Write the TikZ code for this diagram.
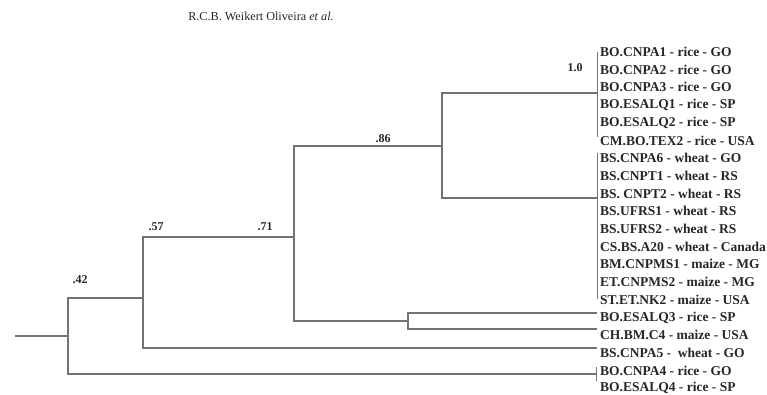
\documentclass[tikz,border=0pt]{standalone}
\usepackage{fontspec}
\setmainfont{Liberation Serif}
\begin{document}
\begin{tikzpicture}[x=1pt,y=-1pt,
  branch/.style={draw=black!55, line width=1.3pt},
  bracket/.style={draw=black!55, line width=1pt},
  leaf/.style={anchor=west, inner sep=0pt, font=\fontsize{13.5}{15}\selectfont\bfseries, text=black!85},
  support/.style={inner sep=0pt, font=\fontsize{12}{14}\selectfont\bfseries, text=black!85}]
\useasboundingbox (0,0) rectangle (767,394);
\node[inner sep=0pt, font=\fontsize{12.2}{14}\selectfont, text=black!85] (title) at (261,16) {R.C.B. Weikert Oliveira \textit{et al.}};
\foreach \i/\t in {0/{BO.CNPA1 - rice - GO},1/{BO.CNPA2 - rice - GO},2/{BO.CNPA3 - rice - GO},
  3/{BO.ESALQ1 - rice - SP},4/{BO.ESALQ2 - rice - SP},5/{CM.BO.TEX2 - rice - USA},
  6/{BS.CNPA6 - wheat - GO},7/{BS.CNPT1 - wheat - RS},8/{BS. CNPT2 - wheat - RS},
  9/{BS.UFRS1 - wheat - RS},10/{BS.UFRS2 - wheat - RS},11/{CS.BS.A20 - wheat - Canada},
  12/{BM.CNPMS1 - maize - MG},13/{ET.CNPMS2 - maize - MG},14/{ST.ET.NK2 - maize - USA},
  15/{BO.ESALQ3 - rice - SP},16/{CH.BM.C4 - maize - USA},17/{BS.CNPA5 -\ \ wheat - GO},
  18/{BO.CNPA4 - rice - GO},19/{BO.ESALQ4 - rice - SP}}
  \node[leaf] (l\i) at (600,{52+17.7*\i}) {\t};
% internal nodes
\coordinate (r) at (15,336);
\coordinate (n42) at (68,336);
\coordinate (n57) at (143,298);
\coordinate (n71) at (294,237);
\coordinate (n86) at (442,146);
\coordinate (nC) at (408,321);
\coordinate (bA) at (597,93);
\coordinate (bB) at (597,198);
\coordinate (bD) at (596,374);
\coordinate (e15) at (597,313);
\coordinate (e16) at (597,329);
\coordinate (e17) at (597,348);
% branches
\draw[branch] (r) -- (n42);
\draw[branch] (n57) -| (n42) |- (bD);
\draw[branch] (n71) -| (n57) |- (e17);
\draw[branch] (n86) -| (n71) |- (nC);
\draw[branch] (bA) -| (n86) |- (bB);
\draw[branch] (e15) -| (nC) |- (e16);
% leaf brackets
\draw[bracket] (597,52) -- (597,137);
\draw[bracket] (597,153) -- (597,299);
\draw[bracket] (596,367) -- (596,381);
% support values
\node[support] (s42) at (80,280) {.42};
\node[support] (s57) at (156,227) {.57};
\node[support] (s71) at (265,227) {.71};
\node[support] (s86) at (383,139) {.86};
\node[support] (s10) at (575,68) {1.0};
\end{tikzpicture}
\end{document}
